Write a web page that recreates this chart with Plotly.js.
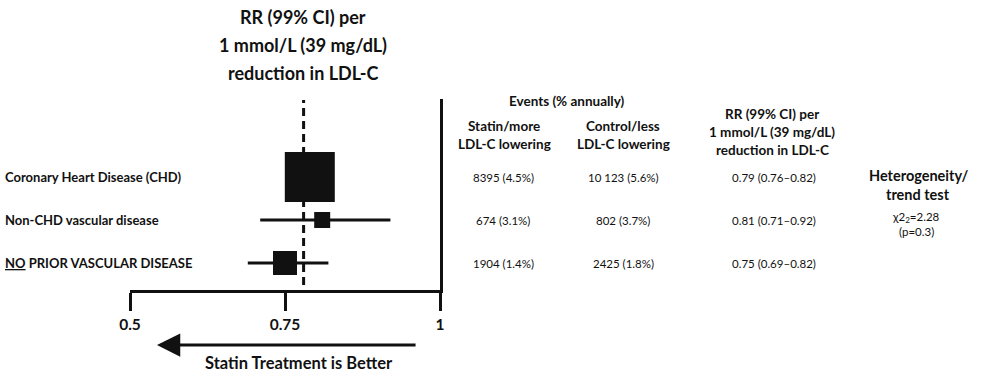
<!DOCTYPE html>
<html>
<head>
<meta charset="utf-8">
<script src="https://cdn.plot.ly/plotly-3.0.1.min.js"></script>
<style>html,body{margin:0;padding:0;background:#fff;}#chart{width:1000px;height:375px;}</style>
</head>
<body>
<div id="chart"></div>
<script>
// ---- data ----
const groups = ['Coronary Heart Disease (CHD)', 'Non-CHD vascular disease', '<span style="text-decoration:underline">NO</span> PRIOR VASCULAR DISEASE'];
const rows = [0, 1, 2];
const rr = [0.79, 0.81, 0.75];
const lo = [0.76, 0.71, 0.69];
const hi = [0.82, 0.92, 0.82];
const statinEvents = ['8395 (4.5%)', '674 (3.1%)', '1904 (1.4%)'];
const controlEvents = ['10 123 (5.6%)', '802 (3.7%)', '2425 (1.8%)'];
const overallRR = 0.78;
const tickVals = [0.5, 0.75, 1];
const tickText = ['0.5', '0.75', '1'];
const titleLines = ['RR (99% CI) per', '1 mmol/L (39 mg/dL)', 'reduction in LDL-C'];
const heteroHead = ['Heterogeneity/', 'trend test'];
const heteroStat = ['χ2<sub>2</sub>=2.28', '(p=0.3)'];
const arrowLabel = 'Statin Treatment is Better';

const FONT = 'Lato, "Open Sans", sans-serif';
const INK = '#111';
const W = 1000, H = 375;
const px = v => v / W;            // pixel x -> paper
const py = v => 1 - v / H;        // pixel y -> paper

const trace = {
  type: 'scatter', mode: 'markers',
  x: rr, y: rows,
  marker: {symbol: 'square', size: [50, 16, 24], color: INK, opacity: 1, line: {width: 0}},
  error_x: {type: 'data', symmetric: false,
    array: hi.map((h, i) => h - rr[i]), arrayminus: lo.map((l, i) => rr[i] - l),
    thickness: 3, width: 0, color: INK},
  cliponaxis: false, hoverinfo: 'skip', showlegend: false
};

const ann = [];
const txt = (t, x, y, opt) => ann.push(Object.assign({xref: 'paper', yref: 'paper', x: px(x), y: py(y), text: t,
  showarrow: false, xanchor: 'center', yanchor: 'middle', font: {family: FONT, size: 11.5, color: INK}}, opt || {}));

titleLines.forEach((t, i) => txt('<b>' + t + '</b>', 303, 17 + i * 28, {font: {family: FONT, size: 18, color: INK}}));
groups.forEach((g, i) => ann.push({xref: 'paper', yref: 'y', x: px(3), y: rows[i],
  text: '<b>' + g + '</b>', showarrow: false, xanchor: 'left', yanchor: 'middle',
  font: {family: FONT, size: 13, color: INK}}));
// table headers
const hdr = (t, x, y, s) => txt('<b>' + t + '</b>', x, y, {font: {family: FONT, size: s || 13.5, color: INK}});
hdr('Events (% annually)', 567, 101);
hdr('Statin/more', 504, 126); hdr('LDL-C lowering', 504, 144);
hdr('Control/less', 623, 126); hdr('LDL-C lowering', 623, 144);
titleLines.forEach((t, i) => hdr(t, 772, 114 + i * 18));
heteroHead.forEach((t, i) => hdr(t, 918, 175 + i * 19, 14.5));
// table values
const cell = (t, x, yv) => ann.push({xref: 'paper', yref: 'y', x: px(x), y: yv, text: t,
  showarrow: false, xanchor: 'center', yanchor: 'middle', font: {family: FONT, size: 11.5, color: INK}});
rows.forEach(i => {
  cell(statinEvents[i], 503, rows[i]);
  cell(controlEvents[i], 623, rows[i]);
  cell(rr[i].toFixed(2) + ' (' + lo[i].toFixed(2) + '–' + hi[i].toFixed(2) + ')', 774, rows[i]);
});
txt(heteroStat[0], 916, 217);
txt(heteroStat[1], 916, 231);
// arrow
ann.push({xref: 'x', yref: 'paper', x: 0.5435, y: py(345), axref: 'x', ax: 0.963, ayref: 'pixel', ay: 0,
  text: '', showarrow: true, arrowhead: 2, arrowsize: 1.55, arrowwidth: 3, arrowcolor: INK, standoff: 0});
txt('<b>' + arrowLabel + '</b>', 299, 363, {font: {family: FONT, size: 16.5, color: INK}});

const layout = {
  width: W, height: H,
  margin: {l: 0, r: 0, t: 0, b: 0, pad: 0},
  paper_bgcolor: '#fff', plot_bgcolor: 'rgba(0,0,0,0)',
  xaxis: {domain: [0.13, 0.44], range: [0.5, 1], showgrid: false, zeroline: false,
    showline: true, linewidth: 3, linecolor: INK, ticks: 'outside', ticklen: 18, tickwidth: 3, tickcolor: INK,
    tickvals: tickVals, ticktext: tickText, tickfont: {family: FONT, size: 15.5, color: INK, weight: 'bold'}, fixedrange: true},
  yaxis: {domain: [py(290), py(99)], range: [2.628, -1.814], side: 'right', showline: true, linewidth: 3, linecolor: INK,
    showgrid: false, zeroline: false, showticklabels: false, ticks: '', fixedrange: true},
  shapes: [{type: 'line', xref: 'x', yref: 'paper', x0: overallRR, x1: overallRR, y0: py(285), y1: py(100),
    line: {color: INK, width: 3, dash: '8px,5px'}}],
  annotations: ann
};
Plotly.newPlot('chart', [trace], layout, {displayModeBar: false, staticPlot: true});
</script>
</body>
</html>
